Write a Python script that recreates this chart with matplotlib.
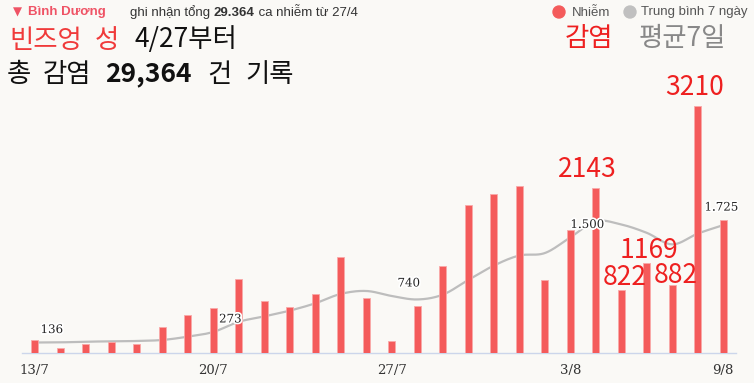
import numpy as np
import matplotlib
matplotlib.use("Agg")
import matplotlib.pyplot as plt
import matplotlib.patheffects as pe
from matplotlib.patches import Ellipse

# ---------------- data ----------------
dates = ["13/7", "14/7", "15/7", "16/7", "17/7", "18/7", "19/7", "20/7", "21/7", "22/7",
         "23/7", "24/7", "25/7", "26/7", "27/7", "28/7", "29/7", "30/7", "31/7", "1/8",
         "2/8", "3/8", "4/8", "5/8", "6/8", "7/8", "8/8", "9/8"]
cases = [175, 65, 121, 143, 121, 337, 493, 579, 965, 677,
         597, 771, 1242, 714, 152, 615, 1125, 1917, 2069, 2170,
         944, 1600, 2143, 822, 1169, 882, 3210, 1725]
avg7 = [136, 138, 147, 151, 156, 169, 212, 273, 405, 475,
        550, 645, 767, 805, 740, 695, 757, 948, 1134, 1265,
        1297, 1500, 1710, 1668, 1560, 1410, 1550, 1660]
tick_labels = ["13/7", "20/7", "27/7", "3/8", "9/8"]
avg_label_dates = ["13/7", "20/7", "27/7", "3/8", "9/8"]
avg_label_texts = ["136", "273", "740", "1.500", "1.725"]
big_label_dates = ["4/8", "5/8", "6/8", "7/8", "8/8"]

W, H = 754, 383
BG = "#FAF9F6"
RED = "#F45B5B"
GRAY = "#BDBDBD"

fig = plt.figure(figsize=(W / 100, H / 100), dpi=100, facecolor=BG)

# axes geometry in pixels
ax_left, ax_right = 22, 736
ax_bottom_px = 353   # baseline (from top)
ax_top_px = 60
px_per_case = 247.3 / 3210.0
ax = fig.add_axes([ax_left / W, 1 - ax_bottom_px / H,
                   (ax_right - ax_left) / W, (ax_bottom_px - ax_top_px) / H])
ax.set_facecolor(BG)
ax.set_xlim(-0.5, len(dates) - 0.5)
ax.set_ylim(0, (ax_bottom_px - ax_top_px) / px_per_case)

x = np.arange(len(dates))
ax.bar(x, cases, width=0.26, color=RED, edgecolor="#F9A9A9", linewidth=0.6, zorder=3)

# smooth spline through avg points (cubic Hermite, rendering only)
y = np.array(avg7, dtype=float)
m = np.zeros_like(y)
m[1:-1] = (y[2:] - y[:-2]) / 2.0
m[0] = y[1] - y[0]
m[-1] = y[-1] - y[-2]
xs, ys = [], []
for i in range(len(y) - 1):
    t = np.linspace(0, 1, 20, endpoint=False)
    h00 = 2 * t**3 - 3 * t**2 + 1
    h10 = t**3 - 2 * t**2 + t
    h01 = -2 * t**3 + 3 * t**2
    h11 = t**3 - t**2
    xs.append(x[i] + t)
    ys.append(h00 * y[i] + h10 * m[i] + h01 * y[i + 1] + h11 * m[i + 1])
xs.append([x[-1]]); ys.append([y[-1]])
ax.plot(np.concatenate(xs), np.concatenate(ys), color=GRAY, lw=1.6, zorder=2,
        solid_capstyle="round")

# axes styling
for s in ["top", "right", "left"]:
    ax.spines[s].set_visible(False)
ax.spines["bottom"].set_color("#CCD6EB")
ax.spines["bottom"].set_linewidth(1)
ax.set_yticks([])
ax.set_xticks([dates.index(d) for d in tick_labels])
ax.set_xticklabels(tick_labels, fontfamily="DejaVu Serif", fontsize=9.5, color="#333333")
ax.tick_params(axis="x", length=0, pad=8)

PT = 0.72  # points per pixel at dpi 100

# avg labels
halo = [pe.withStroke(linewidth=2.5, foreground="white")]
for d, t in zip(avg_label_dates, avg_label_texts):
    i = dates.index(d)
    dx, dy = (17, 13) if d != "9/8" else (-2, 18)
    ax.annotate(t, xy=(i, avg7[i]), xytext=(dx * PT, dy * PT), textcoords="offset points",
                ha="center", va="center", fontsize=8.5, family="DejaVu Serif",
                color="#222222", path_effects=halo, zorder=5)

KR = ["Noto Sans CJK KR", "DejaVu Sans"]
LAT = ["Liberation Sans", "DejaVu Sans"]

# big red labels
big_off = {"4/8": (-8, 18), "5/8": (3, 12), "6/8": (2, 12), "7/8": (3.5, 10), "8/8": (-3.5, 18)}
for d in big_label_dates:
    i = dates.index(d)
    dx, dy = big_off[d]
    ax.annotate(str(cases[i]), xy=(i, cases[i]), xytext=(dx * PT, dy * PT),
                textcoords="offset points", ha="center", va="center", fontsize=19,
                family=KR, color="#EE2020", zorder=6)

# ---------------- header ----------------
def fx(px):
    return px / W

def fy(py):
    return 1 - py / H

fig.text(fx(17), fy(12), "▼", ha="center", va="center", fontsize=8.5, color="#EF5365",
         family=["DejaVu Sans"])
fig.text(fx(28), fy(12.5), "Bình Dương", ha="left", va="center", fontsize=9.5,
         color="#EF5365", fontweight="bold", family=LAT)

renderer = fig.canvas.get_renderer()

def seq_text(x0, ypx, parts, **kw):
    cur = x0
    for txt, extra in parts:
        opts = dict(kw)
        opts.update(extra)
        t = fig.text(fx(cur), fy(ypx), txt, ha="left", va="center", **opts)
        bb = t.get_window_extent(renderer=renderer)
        cur += bb.width
    return cur

seq_text(130, 12.5, [("ghi nhận tổng ", {}), ("29.364", {"fontweight": "bold"}),
                     (" ca nhiễm từ 27/4", {})],
         fontsize=9.5, color="#333333", family=LAT)

# Korean title rows (word by word, centred on the reference word spans)
def word(cx, py, s, weight="normal", **kw):
    fig.text(fx(cx), fy(py), s, ha="center", va="center", family=KR, fontsize=19,
             fontweight=weight, **kw)

word(46, 40, "빈즈엉", color="#F03A3A")
word(106.5, 40, "성", color="#F03A3A")
word(186, 40, "4/27부터", color="#111111")
word(18.5, 74, "총", color="#111111")
word(66.5, 74, "감염", color="#111111")
word(148, 74, "29,364", weight="bold", color="#111111")
word(219, 74, "건", color="#111111")
word(270, 74, "기록", color="#111111")

# legend
fig.patches.append(Ellipse((fx(559), fy(12)), 12 / W, 12 / H, color=RED,
                           transform=fig.transFigure, figure=fig))
fig.text(fx(572), fy(12.5), "Nhiễm", ha="left", va="center", fontsize=9.5,
         color="#555555", family=LAT)
fig.patches.append(Ellipse((fx(630), fy(12)), 12 / W, 12 / H, color="#C0C0C0",
                           transform=fig.transFigure, figure=fig))
fig.text(fx(641), fy(12.5), "Trung bình 7 ngày", ha="left", va="center", fontsize=9.5,
         color="#555555", family=LAT)

word(588.5, 39, "감염", color="#EE2020")
word(682.5, 39, "평균7일", color="#888888")

fig.savefig("out.png", dpi=100, facecolor=BG)
